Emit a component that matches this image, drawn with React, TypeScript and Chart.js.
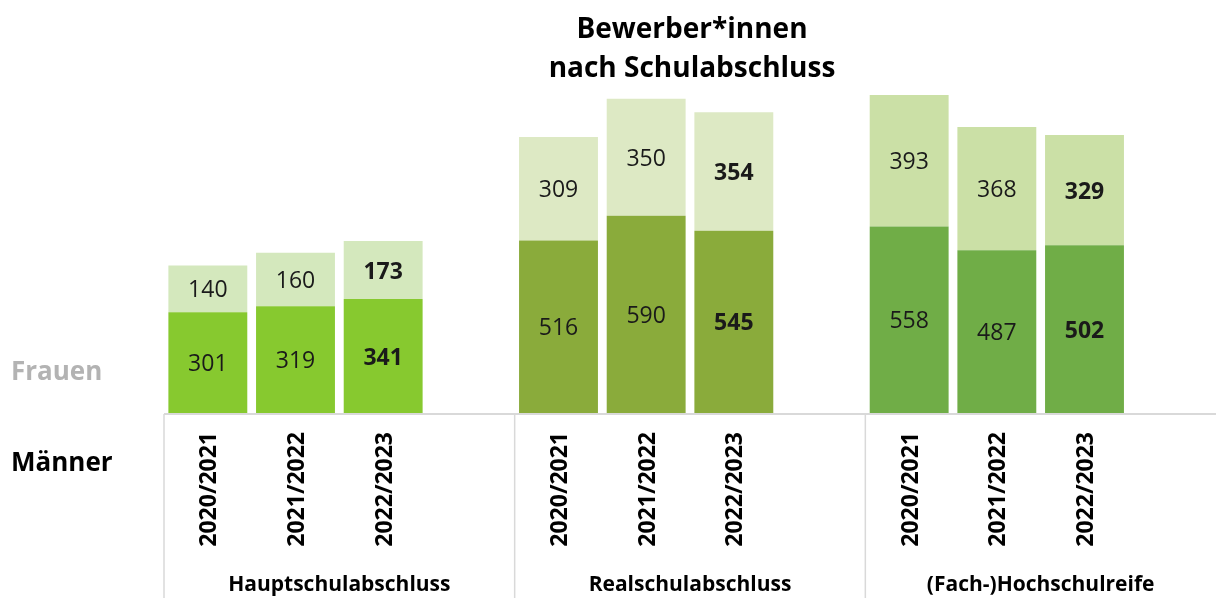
import React, { useEffect, useRef } from "react";
import { Chart, registerables } from "chart.js";

Chart.register(...registerables);

const years = ["2020/2021", "2021/2022", "2022/2023"];
const groups = ["Hauptschulabschluss", "Realschulabschluss", "(Fach-)Hochschulreife"];
const maenner = [301, 319, 341, 516, 590, 545, 558, 487, 502];
const frauen = [140, 160, 173, 309, 350, 354, 393, 368, 329];
const maennerColors = ["#87c92f", "#8aab3b", "#70ad47"];
const frauenColors = ["#d4e8bd", "#dde9c4", "#cbe0a6"];
const titleLines = ["Bewerber*innen", "nach Schulabschluss"];
const FONT = "'Open Sans', sans-serif";

// build slots: 3 bars + 1 empty slot per group
const labels: string[] = [];
const mData: (number | null)[] = [];
const fData: (number | null)[] = [];
const mCol: string[] = [];
const fCol: string[] = [];
const slotInfo: { group: number; year: number }[] = [];
groups.forEach((g, gi) => {
  years.forEach((y, yi) => {
    labels.push(`${g} ${y}`);
    mData.push(maenner[gi * 3 + yi]);
    fData.push(frauen[gi * 3 + yi]);
    mCol.push(maennerColors[gi]);
    fCol.push(frauenColors[gi]);
    slotInfo.push({ group: gi, year: yi });
  });
  labels.push(`gap${gi}`);
  mData.push(null);
  fData.push(null);
  mCol.push("transparent");
  fCol.push("transparent");
  slotInfo.push({ group: gi, year: -1 });
});

const decorPlugin = {
  id: "decor",
  afterDatasetsDraw(chart: any) {
    const ctx = chart.ctx as CanvasRenderingContext2D;
    const xs = chart.scales.x;
    const area = chart.chartArea;
    const base = area.bottom;
    const slot = area.width / labels.length;
    ctx.save();

    // data labels
    chart.data.datasets.forEach((ds: any, di: number) => {
      const meta = chart.getDatasetMeta(di);
      meta.data.forEach((el: any, i: number) => {
        const v = ds.data[i];
        if (v == null) return;
        const info = slotInfo[i];
        const top = el.y;
        const bottom = el.base;
        ctx.font = `${info.year === 2 ? "bold " : ""}23px ${FONT}`;
        ctx.fillStyle = "#1a1a1a";
        ctx.textAlign = "center";
        ctx.textBaseline = "middle";
        ctx.fillText(String(v), el.x, (top + bottom) / 2 + 2);
      });
    });

    // axis line
    ctx.strokeStyle = "#d9d9d9";
    ctx.lineWidth = 2;
    ctx.beginPath();
    ctx.moveTo(area.left, base + 1);
    ctx.lineTo(chart.width, base + 1);
    ctx.stroke();

    // group dividers
    ctx.lineWidth = 1.5;
    for (let g = 0; g < groups.length; g++) {
      const x = area.left + g * 4 * slot;
      ctx.beginPath();
      ctx.moveTo(x, base + 1);
      ctx.lineTo(x, chart.height);
      ctx.stroke();
    }

    // year labels (rotated)
    ctx.fillStyle = "#000";
    ctx.font = `bold 23px ${FONT}`;
    slotInfo.forEach((info, i) => {
      if (info.year < 0) return;
      const x = xs.getPixelForValue(i);
      ctx.save();
      ctx.translate(x + 2, base + 19);
      ctx.rotate(-Math.PI / 2);
      ctx.textAlign = "right";
      ctx.textBaseline = "middle";
      ctx.fillText(years[info.year], 0, 0);
      ctx.restore();
    });

    // group labels
    ctx.font = `bold 21px ${FONT}`;
    ctx.textAlign = "center";
    ctx.textBaseline = "alphabetic";
    groups.forEach((g, gi) => {
      const x = area.left + (gi * 4 + 2) * slot;
      ctx.fillText(g, x, 591);
    });

    // legend-ish labels
    ctx.textAlign = "left";
    ctx.font = `bold 26px ${FONT}`;
    ctx.fillStyle = "#b3b3b3";
    ctx.fillText("Frauen", 11, 380);
    ctx.fillStyle = "#000";
    ctx.fillText("Männer", 11, 471);

    // title
    ctx.font = `bold 28px ${FONT}`;
    ctx.textAlign = "center";
    ctx.fillStyle = "#000";
    ctx.fillText(titleLines[0], 692, 38);
    ctx.fillText(titleLines[1], 692, 77);

    ctx.restore();
  },
};

export default function App() {
  const ref = useRef<HTMLCanvasElement | null>(null);
  useEffect(() => {
    document.body.style.margin = "0";
    const c = ref.current!;
    const chart = new Chart(c, {
      type: "bar",
      data: {
        labels,
        datasets: [
          {
            label: "Männer",
            data: mData,
            backgroundColor: mCol,
            barPercentage: 0.9,
            categoryPercentage: 1.0,
          },
          {
            label: "Frauen",
            data: fData,
            backgroundColor: fCol,
            barPercentage: 0.9,
            categoryPercentage: 1.0,
          },
        ],
      },
      options: {
        responsive: false,
        animation: false,
        layout: { padding: { left: 164, right: 0, top: 78.6, bottom: 185 } },
        plugins: { legend: { display: false }, tooltip: { enabled: false }, title: { display: false } },
        scales: {
          x: { stacked: true, display: false, offset: true },
          y: { stacked: true, display: false, min: 0, max: 1000 },
        },
      },
      plugins: [decorPlugin],
    });
    return () => chart.destroy();
  }, []);
  return (
    <div style={{ position: "absolute", left: 0, top: 0, width: 1216, height: 598, background: "#fff" }}>
      <canvas ref={ref} width={1216} height={598} style={{ width: 1216, height: 598 }} />
    </div>
  );
}
